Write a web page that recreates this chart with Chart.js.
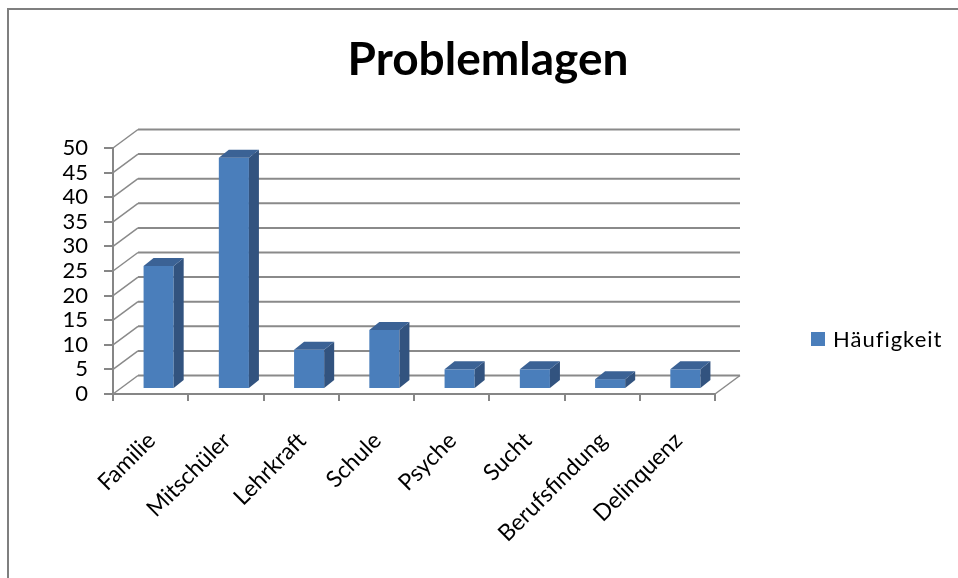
<!DOCTYPE html>
<html>
<head>
<meta charset="utf-8">
<script src="https://cdn.jsdelivr.net/npm/chart.js@4.4.1/dist/chart.umd.min.js"></script>
<style>
    body { margin: 0; background: #fff; }
    #rahmen { position: relative; width: 958px; height: 578px; overflow: hidden; }
    #kante { position: absolute; left: 7px; top: 8px; width: 960px; height: 580px;
             border-left: 2px solid #7f7f7f; border-top: 2px solid #7f7f7f; pointer-events: none; }
    #legende { position: absolute; left: 811px; top: 325px; font: 22px Lato, sans-serif; color: #000;
               letter-spacing: 1px; display: flex; align-items: center; }
    #legende span.box { display: inline-block; width: 14px; height: 14px; background: #4a7ebb; margin-right: 8px; }
</style>
</head>
<body>
<div id="rahmen">
    <canvas id="myChart" width="958" height="578"></canvas>
    <div id="kante"></div>
    <div id="legende"><span class="box"></span><span id="legendeText"></span></div>
</div>
<script>
var titel = "Problemlagen";
var serienName = "Häufigkeit";
var kategorien = ["Familie", "Mitschüler", "Lehrkraft", "Schule", "Psyche", "Sucht", "Berufsfindung", "Delinquenz"];
var haeufigkeit = [25, 47, 8, 12, 4, 4, 2, 4];
var yTicks = [0, 5, 10, 15, 20, 25, 30, 35, 40, 45, 50];

document.getElementById("legendeText").textContent = serienName;

// Tiefe der Rueckwand und der Saeulen
var wandX = 25, wandY = -18.5;
var saeuleX = 8, saeuleY = -5;
var tiefeX = 10, tiefeY = -8;

var wand3d = {
    id: "wand3d",
    beforeDatasetsDraw: function (chart) {
        var ctx = chart.ctx;
        var x = chart.scales.x, y = chart.scales.y;
        ctx.save();
        ctx.strokeStyle = "#8a8a8a";
        yTicks.forEach(function (v) {
            var py = y.getPixelForValue(v);
            ctx.lineWidth = 1.5;
            ctx.beginPath();
            ctx.moveTo(x.left, py);
            ctx.lineTo(x.left + wandX, py + wandY);
            ctx.stroke();
            ctx.lineWidth = 2;
            ctx.beginPath();
            ctx.moveTo(x.left + wandX, py + wandY);
            ctx.lineTo(x.right + wandX, py + wandY);
            ctx.stroke();
        });
        var p0 = y.getPixelForValue(0);
        ctx.lineWidth = 1.5;
        ctx.beginPath();
        ctx.moveTo(x.right, p0);
        ctx.lineTo(x.right + wandX, p0 + wandY);
        ctx.stroke();
        ctx.restore();

        ctx.save();
        ctx.translate(saeuleX, saeuleY);
    },
    afterDatasetsDraw: function (chart) {
        var ctx = chart.ctx;
        chart.getDatasetMeta(0).data.forEach(function (bar) {
            var l = bar.x - bar.width / 2, r = bar.x + bar.width / 2, t = bar.y, b = bar.base;
            ctx.fillStyle = "#32537f";
            ctx.beginPath();
            ctx.moveTo(r, b);
            ctx.lineTo(r, t);
            ctx.lineTo(r + tiefeX, t + tiefeY);
            ctx.lineTo(r + tiefeX, b + tiefeY);
            ctx.closePath();
            ctx.fill();
            ctx.fillStyle = "#3b6295";
            ctx.beginPath();
            ctx.moveTo(l, t);
            ctx.lineTo(r, t);
            ctx.lineTo(r + tiefeX, t + tiefeY);
            ctx.lineTo(l + tiefeX, t + tiefeY);
            ctx.closePath();
            ctx.fill();
        });
        ctx.restore();
    }
};

Chart.defaults.font.family = "Lato";
Chart.defaults.color = "#000";

var ctx = document.getElementById("myChart").getContext("2d");
var chart = new Chart(ctx, {
    type: "bar",
    data: {
        labels: kategorien,
        datasets: [{
            label: serienName,
            data: haeufigkeit,
            backgroundColor: "#4a7ebb",
            borderWidth: 0,
            barPercentage: 0.8,
            categoryPercentage: 0.5
        }]
    },
    options: {
        responsive: false,
        animation: false,
        layout: { padding: { left: 18, right: 0, top: 0, bottom: 0 } },
        plugins: {
            legend: { display: false },
            tooltip: { enabled: false },
            title: {
                display: true,
                text: titel,
                color: "#000",
                font: { size: 46, weight: "bold", lineHeight: 1.2 },
                padding: { top: 33, bottom: 59.8 }
            }
        },
        scales: {
            x: {
                afterFit: function (scale) { scale.height = 184; },
                grid: { drawOnChartArea: false, drawTicks: true, tickLength: 7, color: "#868686", lineWidth: 2 },
                border: { display: true, color: "#868686", width: 2 },
                ticks: { minRotation: 45, maxRotation: 45, autoSkip: false, font: { size: 23 }, padding: 26, labelOffset: 1 }
            },
            y: {
                min: 0,
                max: 50,
                afterFit: function (scale) { scale.width = 95; },
                afterBuildTicks: function (scale) {
                    scale.ticks = yTicks.map(function (v) { return { value: v }; });
                },
                grid: { drawOnChartArea: false, drawTicks: true, tickLength: 9, color: "#868686", lineWidth: 2 },
                border: { display: true, color: "#868686", width: 2 },
                ticks: { autoSkip: false, font: { size: 22 }, padding: 16 }
            },
            // leerer Platz rechts fuer die Legende
            rechts: {
                type: "linear",
                position: "right",
                afterFit: function (scale) { scale.width = 243; },
                grid: { display: false },
                border: { display: false },
                ticks: { display: false }
            }
        }
    },
    plugins: [wand3d]
});
</script>
</body>
</html>
